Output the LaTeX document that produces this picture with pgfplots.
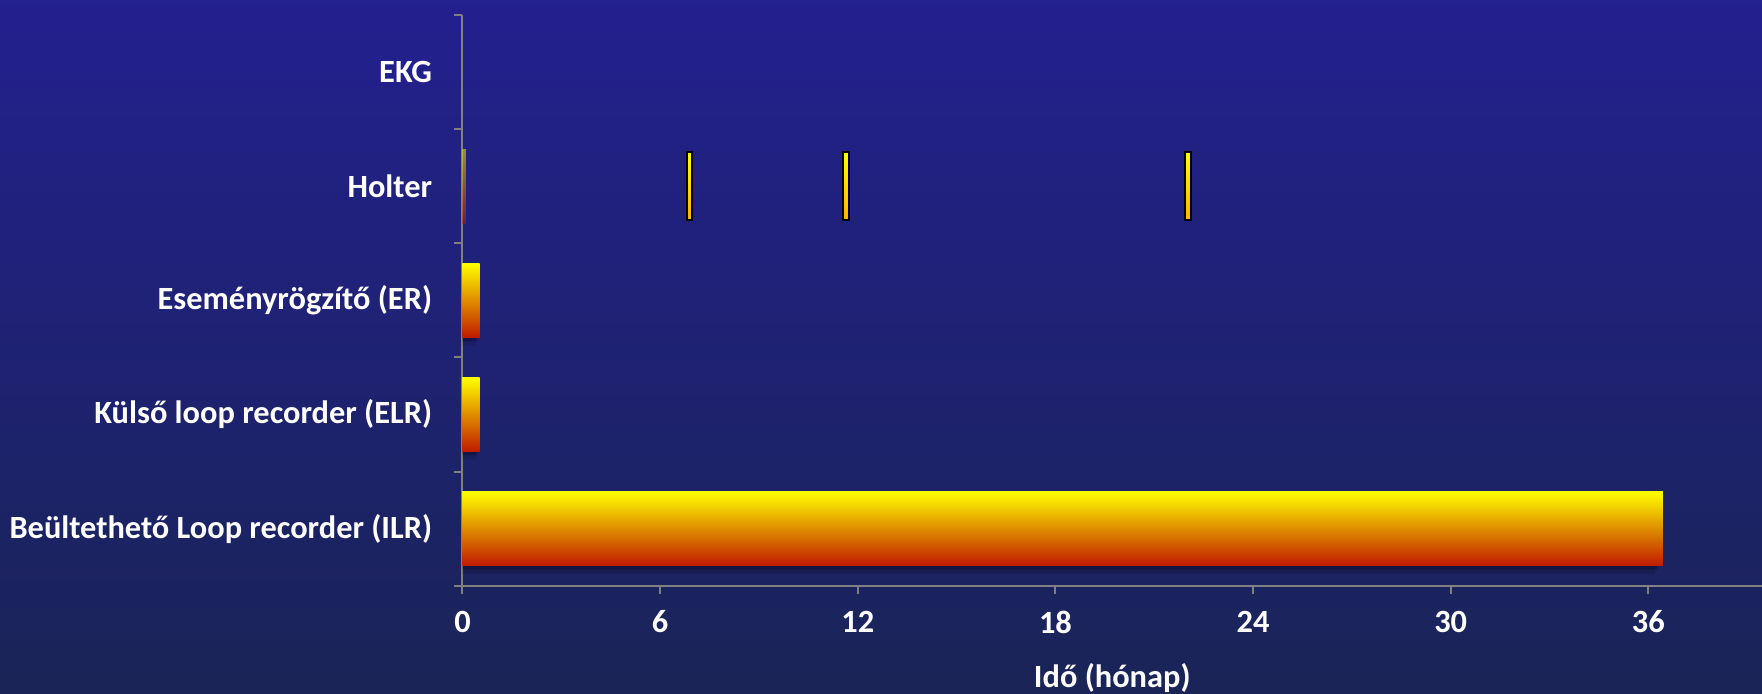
\documentclass[border=0pt]{standalone}
\usepackage{fontspec}
\setmainfont{Carlito}
\usepackage{pgfplots}
\pgfplotsset{compat=1.18}

\definecolor{bgtop}{RGB}{35,32,143}
\definecolor{bgbot}{RGB}{26,36,86}
\definecolor{axgray}{RGB}{128,128,128}
\definecolor{bartop}{RGB}{255,255,0}
\definecolor{barmid}{RGB}{232,188,0}
\definecolor{barbot}{RGB}{192,26,0}
\definecolor{mkbot}{RGB}{255,178,0}

% thin framed marker for single Holter recordings
\pgfdeclareplotmark{recmark}{%
  \path[draw=black, line width=1pt, top color=bartop, bottom color=mkbot]
    (-1.45pt,-17pt) rectangle (1.45pt,17pt);}

\pgfplotsset{
  durbar/.style={xbar, bar shift=0pt, bar width=37pt, draw=none,
    top color=bartop, middle color=barmid, bottom color=barbot},
  shadowbar/.style={xbar, bar width=37pt, draw=none, fill=black},
}

\begin{document}
\begin{tikzpicture}
\useasboundingbox (0,0) rectangle (881pt,346.5pt);
\fill[top color=bgtop, bottom color=bgbot] (0,0) rectangle (881pt,346.5pt);
\begin{axis}[
  at={(231.25pt,53.65pt)}, anchor=south west,
  scale only axis, width=649.75pt, height=285.35pt,
  xmin=0, xmax=39.45, ymin=-0.5, ymax=4.5,
  axis lines=left, axis line style={draw=axgray, line width=1pt, -},
  xtick={0,6,12,18,24,30,36},
  ytick={-0.5,0.5,1.5,2.5,3.5,4.5},
  yticklabels={},
  extra y ticks={0,1,2,3,4},
  extra y tick labels={Beültethető Loop recorder (ILR),Külső loop recorder (ELR),Eseményrögzítő (ER),Holter,EKG},
  extra y tick style={major tick length=0pt},
  tick align=outside,
  major tick length=4pt,
  tick style={draw=axgray, line width=1pt},
  /pgf/number format/assume math mode=true,
  ticklabel style={font=\bfseries\fontsize{16.2}{19}\selectfont, text=white},
  yticklabel style={anchor=east, inner sep=0pt, xshift=-15pt},
  xticklabel style={anchor=north, yshift=-5pt},
  xlabel={Idő (hónap)},
  xlabel style={font=\bfseries\fontsize{16.2}{19}\selectfont, text=white,
    at={(axis description cs:0.5,0)}, anchor=center, yshift=-46pt},
]
% soft shadow under the bars
\addplot[shadowbar, bar shift=-2pt, fill opacity=0.22]
  coordinates {(36.3,0) (0.45,1) (0.45,2)};
\addplot[shadowbar, bar shift=-4pt, fill opacity=0.12]
  coordinates {(36.2,0) (0.4,1) (0.4,2)};
% monitoring duration, one bar per device
\addplot[durbar] coordinates {(36.44,0)};
\addplot[durbar] coordinates {(0.52,1)};
\addplot[durbar] coordinates {(0.52,2)};
\addplot[durbar, opacity=0.5] coordinates {(0.1,3)};
% repeated Holter recordings
\addplot[only marks, mark=recmark] coordinates {(6.89,3) (11.65,3) (22.03,3)};
\end{axis}
\end{tikzpicture}
\end{document}
